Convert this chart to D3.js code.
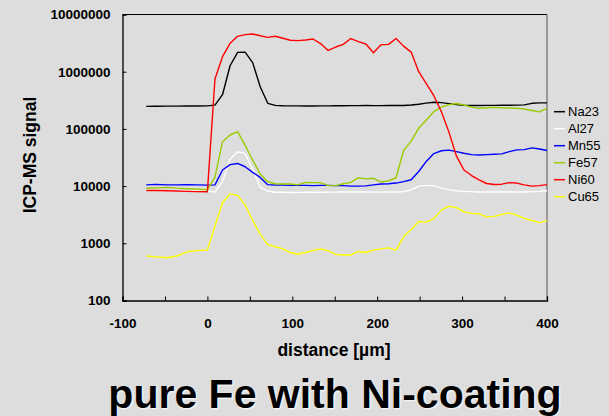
<!DOCTYPE html>
<html>
<head>
<meta charset="utf-8">
<script src="https://cdn.jsdelivr.net/npm/d3@7"></script>
<style>
  html, body { margin: 0; padding: 0; background: #dddddd; }
  svg { display: block; }
  text { font-family: Arial, "Liberation Sans", sans-serif; }
</style>
</head>
<body>
<svg id="chart" width="609" height="416"></svg>
<script>
// ---- data ----
const distance = [-72,-60,-48,-36,-24,-12,
  0,8.9,17.8,26.7,35.6,44.4,53.3,62.2,71.1,80,
  88.9,97.8,106.7,115.6,124.4,133.3,142.2,
  151.1,160,168.9,177.8,186.7,195.6,204.4,213.3,222.2,231.1,
  240,248.9,257.8,266.7,275.6,284.4,293.3,
  302.2,311.1,320,328.9,337.8,346.7,355.6,364.4,373.3,382.2,391.1,400];

const na23 = [248000,249000,250000,250000,251000,252000,
  253000,260000,396000,1270000,2180000,2200000,1440000,547000,280000,258000,
  254000,253000,253000,252000,252000,253000,253000,
  254000,254000,255000,255000,256000,255000,255000,256000,258000,257000,
  262000,270000,282000,292000,288000,276000,266000,
  259000,257000,257000,258000,258000,259000,259000,260000,263000,280000,285000,285000];

const al27 = [8400,8400,8300,8300,8200,8200,
  8200,7900,12000,29800,39900,37000,19900,9500,8200,7800,
  7800,7750,7750,7800,7800,7800,7850,
  7850,7900,7900,7900,7900,7850,7850,7900,7900,8000,
  8600,10000,10300,10200,9200,8600,8300,
  8100,8000,7900,7900,7900,7900,7900,7900,7900,8000,8100,8300];

const mn55 = [10500,10700,10500,10500,10600,10500,
  10400,10500,19100,23700,24900,21800,17400,14200,10600,10400,
  10400,10300,10300,10300,10200,10300,10300,
  10200,10200,10000,10000,10100,10500,10900,11000,11300,12000,
  12900,18000,27000,37000,41500,42500,40000,
  37500,35500,35000,35500,36000,36600,40000,43000,43500,46500,44500,42000];

const fe57 = [9150,9300,9500,9200,9000,8800,
  8650,14300,59700,78200,89300,51700,28600,16300,11900,11000,
  10900,10900,10500,11600,11500,11500,10200,
  10200,11000,11600,14000,13400,13700,11800,12300,14000,42000,
  61000,103000,143000,200000,241000,265000,278000,
  262000,240000,229000,234000,238000,234000,232000,230000,223000,210000,198000,229000];

const ni60 = [8400,8400,8300,8200,8100,8000,
  7950,745000,1830000,3130000,4150000,4450000,4560000,4250000,3990000,4160000,
  3850000,3550000,3500000,3580000,3730000,3100000,2350000,
  2700000,3000000,3800000,3350000,3050000,2150000,2950000,3000000,3800000,2800000,
  2200000,1000000,620000,380000,200000,88700,33700,
  19100,15300,12800,11100,10650,10800,11500,11300,10500,10000,10200,10600];

const cu65 = [600,580,560,600,710,745,
  765,2000,5130,7300,6900,4700,2500,1450,950,870,
  800,690,645,690,750,800,740,
  640,625,625,720,690,760,800,830,760,1300,
  1750,2400,2350,2700,3800,4450,4200,
  3550,3340,3280,2900,2950,3200,3400,3100,2730,2500,2300,2490];

const seriesNames = ["Na23","Al27","Mn55","Fe57","Ni60","Cu65"];
const seriesValues = [na23, al27, mn55, fe57, ni60, cu65];
const seriesColors = ["#000000","#ffffff","#0000ff","#99cc00","#ff0000","#ffff00"];

const xTickValues = [-100,0,100,200,300,400];
const xMinorTicks = [-50,50,150,250,350];
const yTickValues = [100,1000,10000,100000,1000000,10000000];

// ---- layout ----
const svg = d3.select("#chart");
const L = 122.5, R = 547, T = 14.5, B = 300.5;

const x = d3.scaleLinear().domain([-100, 400]).range([L, R]);
const y = d3.scaleLog().domain([100, 1e7]).range([B, T]);

svg.append("rect").attr("width", 609).attr("height", 416).attr("fill", "#dddddd");

// frame top and right
svg.append("line").attr("x1", L).attr("x2", R).attr("y1", T).attr("y2", T)
  .attr("stroke", "#000").attr("stroke-width", 1.2);
svg.append("line").attr("x1", R).attr("x2", R).attr("y1", T).attr("y2", B)
  .attr("stroke", "#808080").attr("stroke-width", 1.5);

// lines
const line = d3.line().x((d, i) => x(distance[i])).y(d => y(d));
seriesValues.forEach((vals, k) => {
  svg.append("path").datum(vals)
    .attr("d", line)
    .attr("fill", "none")
    .attr("stroke", seriesColors[k])
    .attr("stroke-width", 1.4)
    .attr("stroke-linejoin", "round");
});

// x axis
const xAxis = d3.axisBottom(x).tickValues(xTickValues).tickSize(-4).tickPadding(18)
  .tickFormat(d => String(d));
const gx = svg.append("g").attr("transform", `translate(0,${B})`).call(xAxis);
gx.select(".domain").attr("stroke", "#000").attr("stroke-width", 1.3);
gx.selectAll(".tick line").attr("stroke", "#000");
gx.selectAll(".tick text").attr("font-size", 13.5).attr("font-weight", "bold")
  .attr("fill", "#000").attr("font-family", "Arial, 'Liberation Sans', sans-serif");
const gxm = svg.append("g").attr("transform", `translate(0,${B})`)
  .call(d3.axisBottom(x).tickValues(xMinorTicks).tickSize(-4).tickFormat(""));
gxm.select(".domain").remove();

// y axis
const yAxis = d3.axisLeft(y).tickValues(yTickValues).tickSize(-4).tickPadding(12)
  .tickFormat(d => String(d));
const gy = svg.append("g").attr("transform", `translate(${L},0)`).call(yAxis);
gy.select(".domain").attr("stroke", "#000").attr("stroke-width", 1.3);
gy.selectAll(".tick line").attr("stroke", "#000");
gy.selectAll(".tick text").attr("font-size", 13.5).attr("font-weight", "bold")
  .attr("fill", "#000").attr("font-family", "Arial, 'Liberation Sans', sans-serif");

// axis titles
svg.append("text").attr("x", 334).attr("y", 356).attr("text-anchor", "middle")
  .attr("font-size", 17.5).attr("font-weight", "bold").text("distance [µm]");
svg.append("text").attr("transform", "translate(36,155) rotate(-90)")
  .attr("text-anchor", "middle").attr("font-size", 17.5).attr("font-weight", "bold")
  .text("ICP-MS signal");

// legend
const lg = svg.append("g");
seriesNames.forEach((name, k) => {
  const yy = 111.7 + k * 17;
  lg.append("line").attr("x1", 554).attr("x2", 565).attr("y1", yy).attr("y2", yy)
    .attr("stroke", seriesColors[k]).attr("stroke-width", 1.5);
  lg.append("text").attr("x", 568).attr("y", yy + 4.5).attr("font-size", 13)
    .attr("fill", "#000").text(name);
});

// title
svg.append("text").attr("x", 335).attr("y", 408).attr("text-anchor", "middle")
  .attr("font-size", 41).attr("font-weight", "bold").attr("fill", "#000")
  .style("text-shadow", "1px 1px 2px #ffffff")
  .text("pure Fe with Ni-coating");
</script>
</body>
</html>
